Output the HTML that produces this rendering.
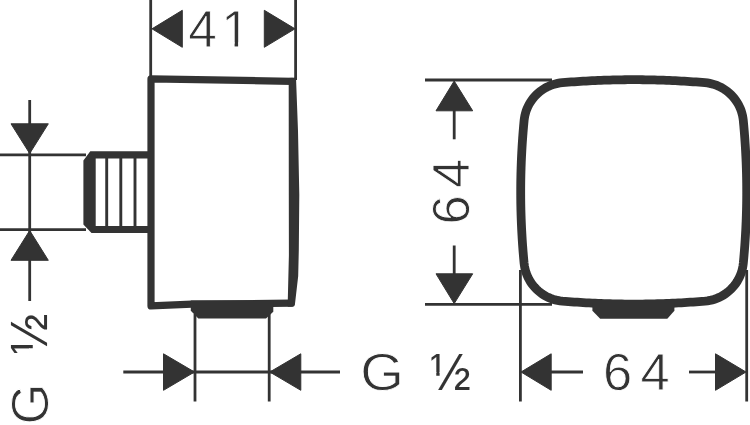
<!DOCTYPE html>
<html><head><meta charset="utf-8"><title>Dimensional drawing</title>
<style>html,body{margin:0;padding:0;background:#fff}svg{display:block}</style></head>
<body><svg width="750" height="425" viewBox="0 0 750 425">
<defs><filter id="soft" x="0" y="0" width="100%" height="100%" filterUnits="objectBoundingBox" color-interpolation-filters="sRGB"><feGaussianBlur stdDeviation="0.5"/></filter></defs>
<g filter="url(#soft)">
<rect width="750" height="425" fill="#fff"/>
<g stroke="#333" fill="none" stroke-width="2.8">
<!-- top dim 41 -->
<line x1="150.7" y1="0" x2="150.7" y2="78"/>
<line x1="295.6" y1="0" x2="295.6" y2="80"/>
<!-- left dim -->
<line x1="29.7" y1="100" x2="29.7" y2="301"/>
<line x1="0" y1="154.9" x2="86" y2="154.9"/>
<line x1="0" y1="229.6" x2="86" y2="229.6"/>
<!-- bottom dim left fig -->
<line x1="195" y1="314" x2="195" y2="401.5"/>
<line x1="269.2" y1="314" x2="269.2" y2="401.5"/>
<line x1="123.3" y1="372" x2="340" y2="372"/>
<!-- right fig vertical dim -->
<line x1="425" y1="80" x2="552" y2="80"/>
<line x1="425" y1="304.4" x2="552" y2="304.4"/>
<line x1="454.2" y1="110" x2="454.2" y2="139.3"/>
<line x1="454.2" y1="245.5" x2="454.2" y2="275"/>
<!-- right fig bottom dim -->
<line x1="520.4" y1="270" x2="520.4" y2="401.5"/>
<line x1="746.7" y1="270" x2="746.7" y2="401.5"/>
<line x1="550" y1="372" x2="583" y2="372"/>
<line x1="689" y1="372" x2="716" y2="372"/>
</g>
<g fill="#333" stroke="#333" stroke-width="1" stroke-linejoin="round">
<!-- arrows -->
<polygon points="152,28.8 182.3,10.3 182.3,47.3"/>
<polygon points="295,28.8 264.3,10.3 264.3,47.3"/>
<polygon points="29.7,153.5 11,123.8 48.3,123.8"/>
<polygon points="29.7,230.5 11,260.3 48.3,260.3"/>
<polygon points="194.5,372 163.5,353.8 163.5,390.3"/>
<polygon points="269.8,372 300.8,353.8 300.8,390.3"/>
<polygon points="454.2,81 436,110.8 472.7,110.8"/>
<polygon points="454.2,303.6 436,273.8 472.7,273.8"/>
<polygon points="521,372 551.2,353.8 551.2,390.3"/>
<polygon points="746,372 715.5,353.8 715.5,390.3"/>
</g>
<!-- left figure body -->
<g stroke="#333" fill="none" stroke-width="7.2" stroke-linejoin="round" stroke-linecap="round">
<path d="M292 81.3 L151 78.9 L151 305.9 L192 304.2 L291 303.2"/>
</g>
<path fill="#333" d="M296 77.6 L298 131 L299.3 195 L298.8 250 L298.2 276 L295.2 302 L294.8 305 Q294.5 306.8 292.5 306.8 L287.8 306.8 L287.8 300 L288.9 255 L288.8 195 L288.7 84 L288.7 78 Z"/>
<!-- thread -->
<path fill="#333" d="M83.4 160.5 L90.3 151.3 L151 151.3 L151 158.4 L95.7 158.4 L95.7 226 L151 226 L151 233 L91.5 233 L83.4 224.5 Z"/>
<g stroke="#333" stroke-width="2.9">
<line x1="106.7" y1="156" x2="106.7" y2="228"/>
<line x1="120.8" y1="156" x2="120.8" y2="228"/>
<line x1="135" y1="156" x2="135" y2="228"/>
</g>
<!-- outlet left fig -->
<path fill="#333" d="M190.8 300.5 L273.3 300.5 L273.3 311.7 L266 318.5 L198.3 318.5 L190.8 310.8 Z"/>
<!-- squircle -->
<path d="M633.70 79.70 L636.67 79.71 L639.65 79.72 L642.62 79.75 L645.59 79.78 L648.57 79.83 L651.54 79.89 L654.51 79.95 L657.49 80.03 L660.46 80.12 L663.43 80.22 L666.40 80.33 L669.38 80.44 L672.35 80.57 L675.32 80.71 L678.29 80.86 L681.26 81.02 L684.23 81.19 L687.19 81.38 L690.16 81.57 L693.13 81.77 L696.10 81.98 L699.06 82.20 L702.03 82.43 L704.99 82.68 L707.41 82.95 L709.81 83.36 L712.18 83.92 L714.52 84.60 L716.81 85.43 L719.05 86.38 L721.23 87.46 L723.35 88.67 L725.39 90.00 L727.35 91.44 L729.23 93.00 L731.01 94.66 L732.69 96.42 L734.27 98.28 L735.74 100.22 L737.09 102.25 L738.32 104.35 L739.43 106.52 L740.41 108.75 L741.26 111.03 L741.97 113.36 L742.55 115.72 L742.99 118.12 L743.30 120.53 L743.57 123.50 L743.84 126.47 L744.09 129.43 L744.34 132.40 L744.57 135.37 L744.79 138.34 L744.99 141.31 L745.19 144.28 L745.37 147.26 L745.54 150.23 L745.70 153.20 L745.85 156.18 L745.98 159.15 L746.11 162.13 L746.22 165.10 L746.32 168.08 L746.41 171.06 L746.49 174.03 L746.55 177.01 L746.61 179.99 L746.65 182.97 L746.68 185.94 L746.69 188.92 L746.70 191.90 L746.69 194.88 L746.68 197.86 L746.65 200.83 L746.61 203.81 L746.55 206.79 L746.49 209.77 L746.41 212.74 L746.32 215.72 L746.22 218.70 L746.11 221.67 L745.98 224.65 L745.85 227.62 L745.70 230.60 L745.54 233.57 L745.37 236.54 L745.19 239.52 L744.99 242.49 L744.79 245.46 L744.57 248.43 L744.34 251.40 L744.09 254.37 L743.84 257.33 L743.57 260.30 L743.30 263.27 L742.99 265.68 L742.55 268.08 L741.97 270.44 L741.26 272.77 L740.41 275.05 L739.43 277.28 L738.32 279.45 L737.09 281.55 L735.74 283.58 L734.27 285.52 L732.69 287.38 L731.01 289.14 L729.23 290.80 L727.35 292.36 L725.39 293.80 L723.35 295.13 L721.23 296.34 L719.05 297.42 L716.81 298.37 L714.52 299.20 L712.18 299.88 L709.81 300.44 L707.41 300.85 L704.99 301.12 L702.03 301.37 L699.06 301.60 L696.10 301.82 L693.13 302.03 L690.16 302.23 L687.19 302.42 L684.23 302.61 L681.26 302.78 L678.29 302.94 L675.32 303.09 L672.35 303.23 L669.38 303.36 L666.40 303.47 L663.43 303.58 L660.46 303.68 L657.49 303.77 L654.51 303.85 L651.54 303.91 L648.57 303.97 L645.59 304.02 L642.62 304.05 L639.65 304.08 L636.67 304.09 L633.70 304.10 L630.73 304.09 L627.75 304.08 L624.78 304.05 L621.81 304.02 L618.83 303.97 L615.86 303.91 L612.89 303.85 L609.91 303.77 L606.94 303.68 L603.97 303.58 L601.00 303.47 L598.02 303.36 L595.05 303.23 L592.08 303.09 L589.11 302.94 L586.14 302.78 L583.17 302.61 L580.21 302.42 L577.24 302.23 L574.27 302.03 L571.30 301.82 L568.34 301.60 L565.37 301.37 L562.41 301.12 L559.99 300.85 L557.59 300.44 L555.22 299.88 L552.88 299.20 L550.59 298.37 L548.35 297.42 L546.17 296.34 L544.05 295.13 L542.01 293.80 L540.05 292.36 L538.17 290.80 L536.39 289.14 L534.71 287.38 L533.13 285.52 L531.66 283.58 L530.31 281.55 L529.08 279.45 L527.97 277.28 L526.99 275.05 L526.14 272.77 L525.43 270.44 L524.85 268.08 L524.41 265.68 L524.10 263.27 L523.83 260.30 L523.56 257.33 L523.31 254.37 L523.06 251.40 L522.83 248.43 L522.61 245.46 L522.41 242.49 L522.21 239.52 L522.03 236.54 L521.86 233.57 L521.70 230.60 L521.55 227.62 L521.42 224.65 L521.29 221.67 L521.18 218.70 L521.08 215.72 L520.99 212.74 L520.91 209.77 L520.85 206.79 L520.79 203.81 L520.75 200.83 L520.72 197.86 L520.71 194.88 L520.70 191.90 L520.71 188.92 L520.72 185.94 L520.75 182.97 L520.79 179.99 L520.85 177.01 L520.91 174.03 L520.99 171.06 L521.08 168.08 L521.18 165.10 L521.29 162.13 L521.42 159.15 L521.55 156.18 L521.70 153.20 L521.86 150.23 L522.03 147.26 L522.21 144.28 L522.41 141.31 L522.61 138.34 L522.83 135.37 L523.06 132.40 L523.31 129.43 L523.56 126.47 L523.83 123.50 L524.10 120.53 L524.41 118.12 L524.85 115.72 L525.43 113.36 L526.14 111.03 L526.99 108.75 L527.97 106.52 L529.08 104.35 L530.31 102.25 L531.66 100.22 L533.13 98.28 L534.71 96.42 L536.39 94.66 L538.17 93.00 L540.05 91.44 L542.01 90.00 L544.05 88.67 L546.17 87.46 L548.35 86.38 L550.59 85.43 L552.88 84.60 L555.22 83.92 L557.59 83.36 L559.99 82.95 L562.41 82.68 L565.37 82.43 L568.34 82.20 L571.30 81.98 L574.27 81.77 L577.24 81.57 L580.21 81.38 L583.17 81.19 L586.14 81.02 L589.11 80.86 L592.08 80.71 L595.05 80.57 L598.02 80.44 L601.00 80.33 L603.97 80.22 L606.94 80.12 L609.91 80.03 L612.89 79.95 L615.86 79.89 L618.83 79.83 L621.81 79.78 L624.78 79.75 L627.75 79.72 L630.73 79.71Z" fill="none" stroke="#333" stroke-width="8.8"/>
<path fill="#333" d="M592.4 303 L674.4 303 L674.4 310.8 L667.3 318.8 L600.2 318.8 L592.4 310.8 Z"/>
<!-- text -->
<g font-family="'Liberation Sans', Arial, sans-serif" fill="#333" stroke="#fff" stroke-width="0.85">
<text font-size="51.4" y="46.8" x="188.3 221.3">41</text>
<text font-size="52.5" y="390.2" x="603 640.5">64</text>
<g transform="translate(360.3,390.4) scale(1.07,1)"><text font-size="52.5" y="0" x="0">G</text></g>
<g transform="translate(469.4,224.5) rotate(-90)"><text font-size="52.5" y="0" x="0 36.5">64</text></g>
<g transform="translate(47.6,424.5) rotate(-90)"><text font-size="52.5" y="0" x="0">G</text></g>
</g>
<g font-family="'Liberation Sans', Arial, sans-serif" fill="#333" stroke="#333" stroke-width="0.12">
<g transform="translate(430,390.4) scale(0.93,1)"><text font-size="52.5" y="0" x="0">½</text><path fill="#fff" stroke="none" d="M0.2 -18.3H6.75V-14H0.2Z M10.35 -18.3H16.4V-14H10.35Z"/></g>
<g transform="translate(47.4,354.6) rotate(-90) scale(0.93,1)"><text font-size="52.5" y="0" x="0">½</text><path fill="#fff" stroke="none" d="M0.2 -18.3H6.75V-14H0.2Z M10.35 -18.3H16.4V-14H10.35Z"/></g>
</g>
<g fill="#fff"><rect x="223" y="42.4" width="11.6" height="5.4"/><rect x="238.1" y="42.4" width="11" height="5.4"/></g>
</g>
</svg></body></html>
